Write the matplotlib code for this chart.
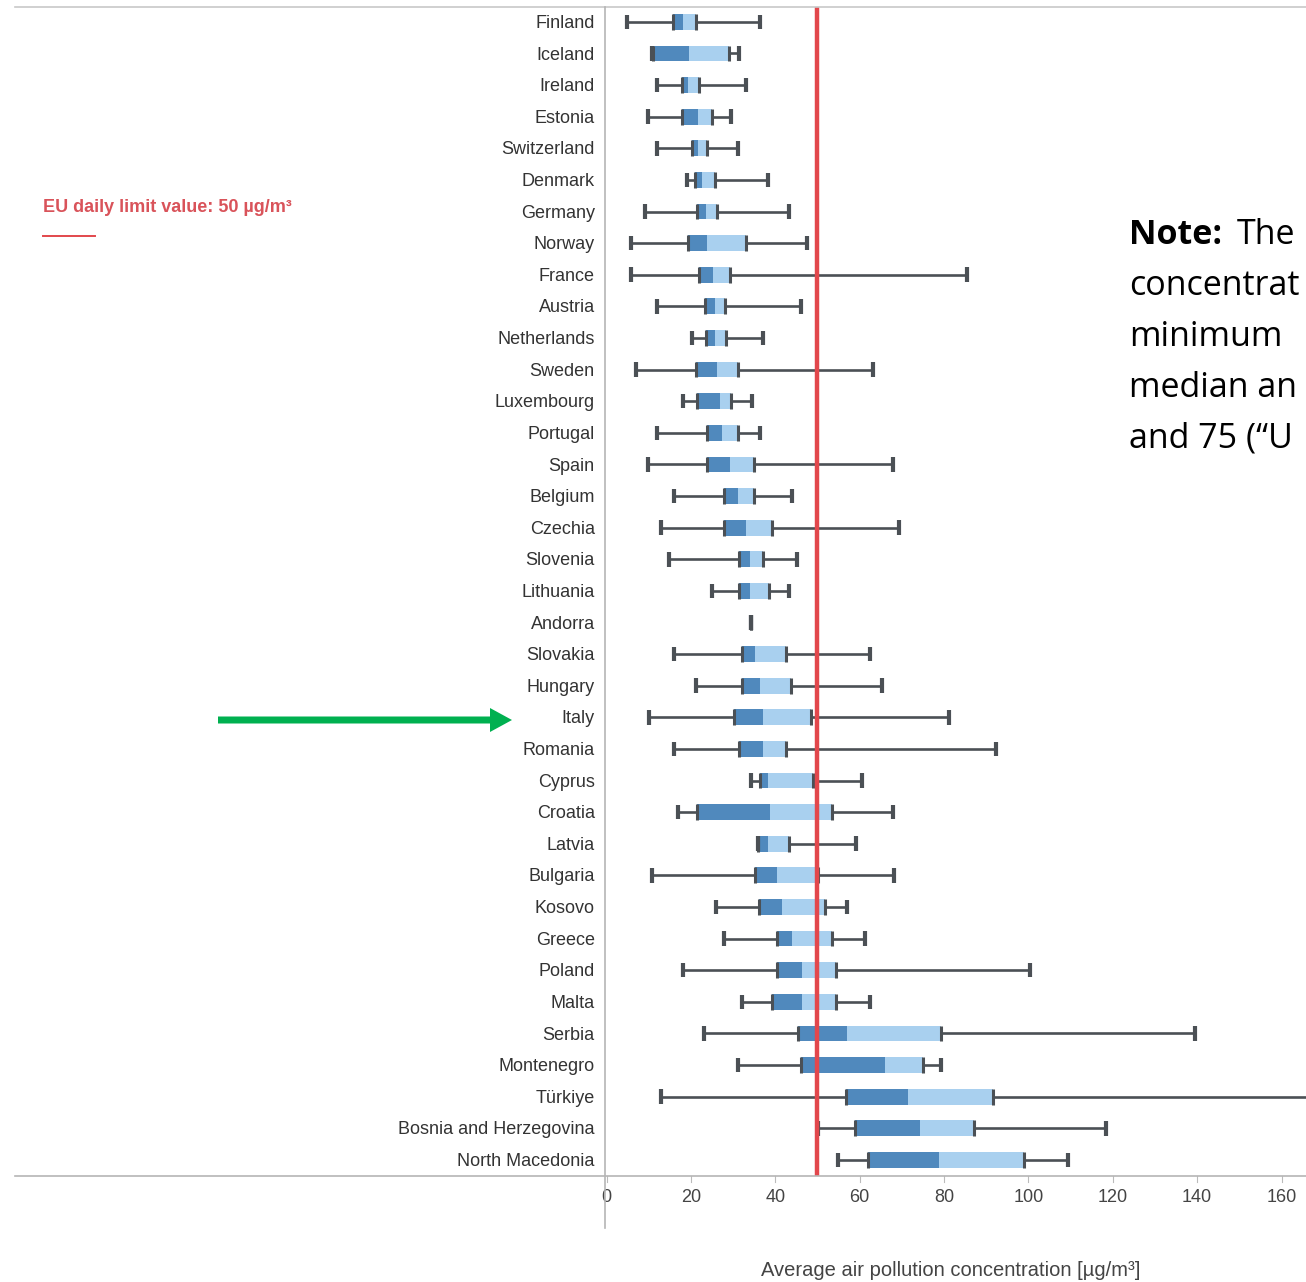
import matplotlib
matplotlib.use("Agg")
import matplotlib.pyplot as plt
from matplotlib.lines import Line2D
from matplotlib.patches import FancyArrow

# Station-level average concentrations per country (µg/m³)
countries = [
    "Finland", "Iceland", "Ireland", "Estonia", "Switzerland", "Denmark",
    "Germany", "Norway", "France", "Austria", "Netherlands", "Sweden",
    "Luxembourg", "Portugal", "Spain", "Belgium", "Czechia", "Slovenia",
    "Lithuania", "Andorra", "Slovakia", "Hungary", "Italy", "Romania",
    "Cyprus", "Croatia", "Latvia", "Bulgaria", "Kosovo", "Greece", "Poland",
    "Malta", "Serbia", "Montenegro", "Türkiye", "Bosnia and Herzegovina",
    "North Macedonia",
]
minimum = [4.9, 10.8, 11.9, 9.9, 11.9, 19.0, 9.1, 5.8, 5.8, 11.9, 20.2, 7.0,
           18.1, 11.9, 9.9, 16.0, 12.9, 14.8, 25.0, 34.2, 16.0, 21.2, 10.0,
           16.0, 34.2, 17.0, 35.9, 10.8, 26.0, 27.8, 18.1, 32.1, 23.2, 31.2,
           12.9, 50.1, 54.8]
lower_q = [15.8, 11.0, 18.0, 18.0, 20.2, 21.0, 21.4, 19.3, 21.9, 23.3, 23.6,
           21.2, 21.4, 23.8, 23.8, 27.8, 27.8, 31.4, 31.4, 34.2, 32.1, 32.1,
           30.2, 31.4, 36.4, 21.4, 35.9, 35.2, 36.2, 40.4, 40.4, 39.2, 45.4,
           46.1, 56.8, 58.9, 62.0]
median = [18.1, 19.6, 19.3, 21.7, 21.7, 22.6, 23.6, 23.8, 25.3, 25.7, 25.7,
          26.2, 27.0, 27.4, 29.3, 31.2, 33.0, 34.0, 34.0, 34.2, 35.2, 36.4,
          37.1, 37.1, 38.3, 38.8, 38.3, 40.4, 41.6, 44.0, 46.3, 46.3, 57.1,
          66.0, 71.5, 74.3, 78.7]
upper_q = [21.2, 29.0, 22.0, 25.0, 23.8, 25.7, 26.2, 33.0, 29.3, 28.0, 28.3,
           31.2, 29.5, 31.2, 35.0, 35.0, 39.2, 37.1, 38.5, 34.2, 42.5, 43.7,
           48.5, 42.5, 49.0, 53.4, 43.2, 50.1, 51.8, 53.4, 54.4, 54.4, 79.2,
           75.0, 91.6, 87.0, 98.9]
maximum = [36.4, 31.4, 33.0, 29.5, 31.2, 38.3, 43.2, 47.5, 85.4, 46.1, 37.1,
           63.2, 34.5, 36.4, 68.0, 44.0, 69.3, 45.1, 43.2, 34.2, 62.4, 65.3,
           81.2, 92.3, 60.5, 68.0, 59.1, 68.2, 57.0, 61.3, 100.4, 62.4, 139.6,
           79.2, 172.0, 118.3, 109.3]

eu_limit = 50
x_ticks = [0, 20, 40, 60, 80, 100, 120, 140, 160]

W, H = 1306, 1282
fig = plt.figure(figsize=(W / 100, H / 100), dpi=100)
fig.patch.set_facecolor("white")

# plot area in pixel terms
left_px, right_px, top_px, bottom_px = 606.5, 1306, 7, 1176
ax = fig.add_axes([left_px / W, 1 - bottom_px / H,
                   (right_px - left_px) / W, (bottom_px - top_px) / H])
ax.set_xlim(0, 165.8)
n = len(countries)
y_bottom = n - 1 + 0.51
ax.set_ylim(y_bottom, -0.47)
for s in ax.spines.values():
    s.set_visible(False)
ax.set_yticks([])
ax.set_xticks([])

whisker_c = "#4b5055"
dark_c = "#5089bd"
light_c = "#a9d0ef"
box_h = 0.50
cap_h = 0.46

for i in range(n):
    lo, q1, md, q3, hi = minimum[i], lower_q[i], median[i], upper_q[i], maximum[i]
    ax.hlines(i, lo, q1, color=whisker_c, lw=1.9, zorder=2)
    ax.hlines(i, q3, hi, color=whisker_c, lw=1.9, zorder=2)
    ax.barh(i, md - q1, left=q1, height=box_h, color=dark_c, lw=0, zorder=3)
    ax.barh(i, q3 - md, left=md, height=box_h, color=light_c, lw=0, zorder=3)
    ax.vlines([lo, hi], i - cap_h / 2, i + cap_h / 2, color=whisker_c, lw=3.0, zorder=4)
    ax.vlines([q1, q3], i - box_h / 2, i + box_h / 2, color=whisker_c, lw=2.2, zorder=4)
    ax.text(-2.8, i + 0.05, countries[i], ha="right", va="center", fontsize=13,
            family="Liberation Sans", color="#333333")

# EU daily limit line
ax.axvline(eu_limit, color="#e2474c", lw=3.2, zorder=5)

# x tick labels and marks
for t in x_ticks:
    ax.text(t, y_bottom + 0.68, str(t), ha="center", va="center",
            fontsize=13, family="Liberation Sans", color="#444444", clip_on=False)
    ax.plot([t, t], [y_bottom, y_bottom + 0.2], color="#bbbbbb", lw=0.8,
            clip_on=False)

fig.text(951 / W, 1 - 1270 / H, "Average air pollution concentration [µg/m³]",
         ha="center", va="center", fontsize=14.5, family="Liberation Sans",
         color="#444444")

# frame lines of the chart
def fig_line(x0, y0, x1, y1, **kw):
    fig.add_artist(Line2D([x0 / W, x1 / W], [1 - y0 / H, 1 - y1 / H],
                          transform=fig.transFigure, **kw))

fig_line(15, 7, 1306, 7, color="#c8c8c8", lw=1.2)
fig_line(15, 1176, 1306, 1176, color="#b5b5b5", lw=1.2)
fig_line(605, 7, 605, 1228, color="#b5b5b5", lw=1.2)

# limit-value legend
fig.text(43 / W, 1 - 208 / H, "EU daily limit value: 50 µg/m³", ha="left",
         va="center", fontsize=13, family="Liberation Sans", color="#d9535a",
         fontweight="bold")
fig_line(43, 236, 95, 236, color="#e2474c", lw=1.4)

# highlight arrow
fig.add_artist(FancyArrow(218 / W, 1 - 720 / H, (512 - 218) / W, 0,
                          width=7 / H, head_width=24 / H, head_length=22 / W,
                          length_includes_head=True, transform=fig.transFigure,
                          color="#00b050", lw=0))

# side note (runs off the right edge of the page)
note_font = dict(ha="left", va="center", fontsize=24.5, family="Open Sans",
                 color="black")
fig.text(1129 / W, 1 - 235 / H, "Note:", fontweight="bold", **note_font)
fig.text(1237 / W, 1 - 235 / H, "The", **note_font)
note_lines = ["concentrat", "minimum", "median an", "and 75 (“U"]
for k, line in enumerate(note_lines):
    fig.text(1129 / W, 1 - (286 + 51 * k) / H, line, **note_font)

fig.savefig("out.png", dpi=100, facecolor="white")
